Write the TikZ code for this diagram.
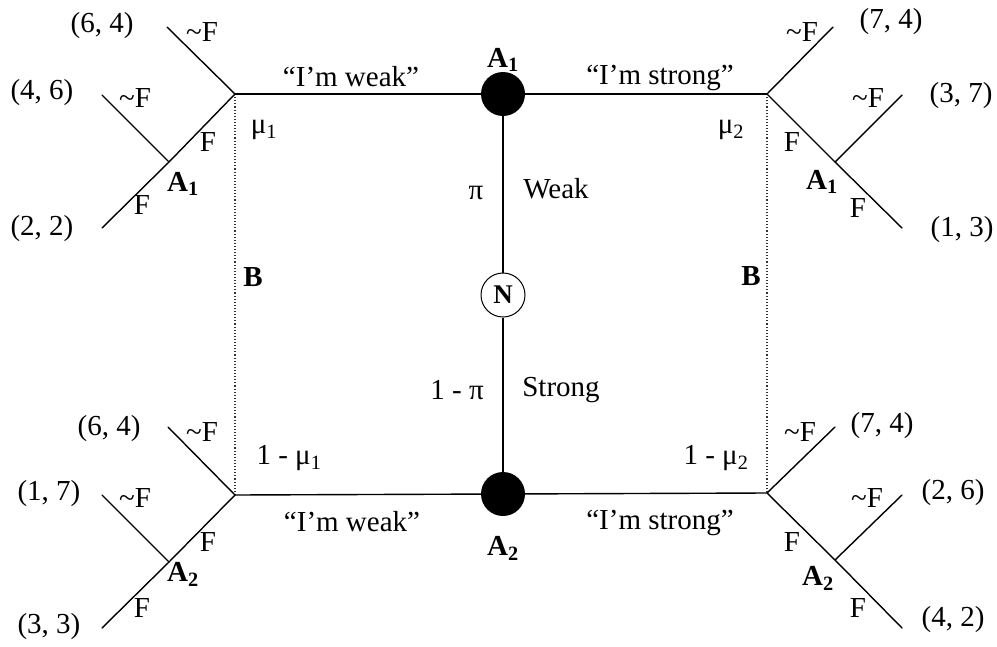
\documentclass[tikz,border=0pt]{standalone}
\usepackage{fontspec}
\setmainfont{Liberation Serif}
\begin{document}
\begin{tikzpicture}[x=1pt,y=-1pt,
  lbl/.style={font=\fontsize{29}{34}\selectfont, inner sep=0pt, anchor=center},
  edge/.style={line width=1.4pt, line cap=round},
  spine/.style={line width=2pt},
  dotline/.style={line width=1.1pt, dotted, black!80},
  chance/.style={circle, fill=black, minimum size=44pt, inner sep=0pt},
  nature/.style={circle, draw, line width=1pt, fill=white, minimum size=44pt, inner sep=0pt, font=\fontsize{27}{30}\selectfont\bfseries}]
\useasboundingbox (0,0) rectangle (997,646);
% main vertices
\coordinate (TL) at (235,94);
\coordinate (TR) at (767,94);
\coordinate (BL) at (235,495);
\coordinate (BR) at (767,493);
\node[chance] (A1) at (503,94) {};
\node[nature] (N) at (503,295) {N};
\node[chance] (A2) at (503,494) {};
% branch points
\coordinate (TLu) at (167,27);  \coordinate (TLm) at (169,162);
\coordinate (TLd) at (102,228); \coordinate (TLb) at (102,95);
\coordinate (TRu) at (833,27);  \coordinate (TRm) at (835,162);
\coordinate (TRd) at (902,228); \coordinate (TRb) at (902,95);
\coordinate (BLu) at (168,427); \coordinate (BLm) at (169,562);
\coordinate (BLd) at (102,628); \coordinate (BLb) at (102,495);
\coordinate (BRu) at (835,427); \coordinate (BRm) at (835,560);
\coordinate (BRd) at (902,628); \coordinate (BRb) at (902,495);
% connectors
\draw[dotline] (TL) -- (BL);
\draw[dotline] (TR) -- (BR);
\draw[edge] (TL) -- (A1);
\draw[edge] (A1) -- (TR);
\draw[edge] (BL) -- (A2);
\draw[edge] (A2) -- (BR);
\draw[spine] (A1) -- (N);
\draw[spine] (N) -- (A2);
\draw[edge] (TL) -- (TLu);
\draw[edge] (TL) -- (TLm);
\draw[edge] (TLm) -- (TLd);
\draw[edge] (TLm) -- (TLb);
\draw[edge] (TR) -- (TRu);
\draw[edge] (TR) -- (TRm);
\draw[edge] (TRm) -- (TRd);
\draw[edge] (TRm) -- (TRb);
\draw[edge] (BL) -- (BLu);
\draw[edge] (BL) -- (BLm);
\draw[edge] (BLm) -- (BLd);
\draw[edge] (BLm) -- (BLb);
\draw[edge] (BR) -- (BRu);
\draw[edge] (BR) -- (BRm);
\draw[edge] (BRm) -- (BRd);
\draw[edge] (BRm) -- (BRb);
% centre labels
\node[lbl] (wk1) at (351,77) {“I’m weak”};
\node[lbl] (st1) at (660,78) {“I’m strong”};
\node[lbl] (a1c) at (503,60) {\textbf{A\textsubscript{1}}};
\node[lbl] (pi) at (476,193) {π};
\node[lbl] (weak) at (556,189) {Weak};
\node[lbl] (ompi) at (457,390) {1 - π};
\node[lbl] (strong) at (561,390) {Strong};
\node[lbl] (bl) at (253,277) {\textbf{B}};
\node[lbl] (br) at (751,276) {\textbf{B}};
\node[lbl] (mu1) at (264,130) {μ\textsubscript{1}};
\node[lbl] (mu2) at (731,130) {μ\textsubscript{2}};
\node[lbl] (omu1) at (289,458) {1 - μ\textsubscript{1}};
\node[lbl] (omu2) at (716,458) {1 - μ\textsubscript{2}};
\node[lbl] (wk2) at (352,522) {“I’m weak”};
\node[lbl] (st2) at (660,523) {“I’m strong”};
\node[lbl] (a2c) at (503,548) {\textbf{A\textsubscript{2}}};
% top-left
\node[lbl] (p1) at (102,26) {(6, 4)};
\node[lbl] (n1) at (202,32) {\textasciitilde F};
\node[lbl] (p2) at (42,93) {(4, 6)};
\node[lbl] (n2) at (135,98) {\textasciitilde F};
\node[lbl] (f1) at (208,142) {F};
\node[lbl] (a1l) at (183,184) {\textbf{A\textsubscript{1}}};
\node[lbl] (f2) at (142,205) {F};
\node[lbl] (p3) at (42,229) {(2, 2)};
% top-right
\node[lbl] (p4) at (891,22) {(7, 4)};
\node[lbl] (n3) at (802,32) {\textasciitilde F};
\node[lbl] (p5) at (961,96) {(3, 7)};
\node[lbl] (n4) at (868,98) {\textasciitilde F};
\node[lbl] (f3) at (792,142) {F};
\node[lbl] (a1r) at (822,182) {\textbf{A\textsubscript{1}}};
\node[lbl] (f4) at (858,208) {F};
\node[lbl] (p6) at (962,230) {(1, 3)};
% bottom-left
\node[lbl] (p7) at (109,429) {(6, 4)};
\node[lbl] (n5) at (202,432) {\textasciitilde F};
\node[lbl] (p8) at (49,494) {(1, 7)};
\node[lbl] (n6) at (135,498) {\textasciitilde F};
\node[lbl] (f5) at (208,542) {F};
\node[lbl] (a2l) at (183,574) {\textbf{A\textsubscript{2}}};
\node[lbl] (f6) at (142,608) {F};
\node[lbl] (p9) at (49,627) {(3, 3)};
% bottom-right
\node[lbl] (p10) at (882,426) {(7, 4)};
\node[lbl] (n7) at (800,432) {\textasciitilde F};
\node[lbl] (p11) at (953,493) {(2, 6)};
\node[lbl] (n8) at (867,498) {\textasciitilde F};
\node[lbl] (f7) at (792,542) {F};
\node[lbl] (a2r) at (818,578) {\textbf{A\textsubscript{2}}};
\node[lbl] (f8) at (858,608) {F};
\node[lbl] (p12) at (953,620) {(4, 2)};
\end{tikzpicture}
\end{document}
